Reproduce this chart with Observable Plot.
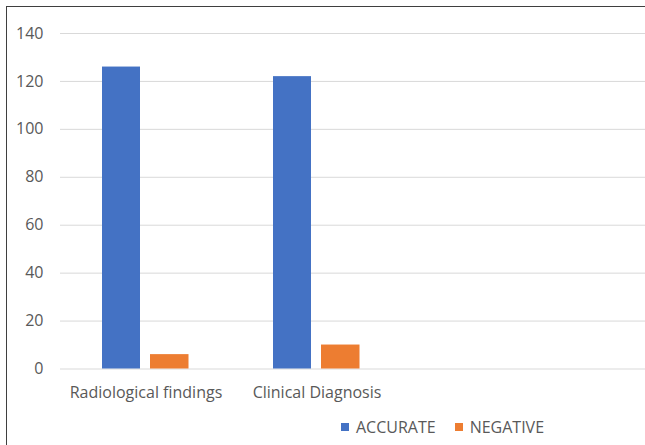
<!DOCTYPE html>
<html>
<head>
<meta charset="utf-8">
<script src="https://cdn.jsdelivr.net/npm/d3@7"></script>
<script src="https://cdn.jsdelivr.net/npm/@observablehq/plot@0.6"></script>
<style>
  html, body { margin: 0; padding: 0; background: #fff; overflow: hidden; width: 645px; height: 445px; }
  #frame { position: absolute; left: 6px; top: 6px; width: 700px; height: 500px;
           border-top: 1.5px solid #3f3f3f; border-left: 1.5px solid #3f3f3f; pointer-events: none; }
  #chart { position: absolute; left: 0; top: 0; }
  .legend { display: flex; align-items: center; padding-top: 11px; height: 22px; margin-left: 341px;
            font-family: "Open Sans", sans-serif; font-size: 16px; color: #595959; }
  .legend .item { display: flex; align-items: center; margin-right: 19px; }
  .legend .sw { width: 8px; height: 8px; margin-right: 7px; }
</style>
</head>
<body>
<div id="chart"></div>
<div id="frame"></div>
<script>
const categories = ["Radiological findings", "Clinical Diagnosis", " ", "  "];
const series = ["ACCURATE", "NEGATIVE"];
const accurate = [126, 122];
const negative = [6, 10];
const yTicks = [0, 20, 40, 60, 80, 100, 120, 140];
const colors = ["#4472C4", "#ED7D31"];

const data = [];
categories.slice(0, 2).forEach((c, i) => {
  data.push({category: c, series: series[0], value: accurate[i]});
  data.push({category: c, series: series[1], value: negative[i]});
});

const H = 405;
const plot = Plot.plot({
  width: 645,
  height: H,
  marginTop: 33,
  marginBottom: H - 368.5,
  marginLeft: 60,
  marginRight: 0,
  style: {fontFamily: "'Open Sans', sans-serif", fontSize: "16px", color: "#595959", background: "transparent"},
  x: {type: "band", domain: categories, range: [60, 60 + 4 * 171], padding: 0},
  y: {domain: [0, 140], ticks: yTicks},
  color: {domain: series, range: colors},
  marks: [
    Plot.ruleY(yTicks, {stroke: "#d9d9d9", strokeWidth: 1}),
    Plot.barY(data.filter(d => d.series === "ACCURATE"), {x: "category", y: "value", fill: "series", insetLeft: 42, insetRight: 91}),
    Plot.barY(data.filter(d => d.series === "NEGATIVE"), {x: "category", y: "value", fill: "series", insetLeft: 90, insetRight: 42.5}),
    Plot.axisY(yTicks, {tickSize: 0, tickPadding: 17, fontSize: 16, fill: "#595959", label: null}),
    Plot.axisX({tickSize: 0, tickPadding: 18, fontSize: 16, fill: "#595959", label: null})
  ]
});
document.getElementById("chart").appendChild(plot);

const legend = document.createElement("div");
legend.className = "legend";
legend.style.position = "absolute";
legend.style.top = H + "px";
legend.style.left = "0px";
series.forEach((s, i) => {
  const item = document.createElement("div");
  item.className = "item";
  const sw = document.createElement("div");
  sw.className = "sw";
  sw.style.background = colors[i];
  const t = document.createElement("span");
  t.textContent = s;
  item.appendChild(sw);
  item.appendChild(t);
  legend.appendChild(item);
});
document.body.appendChild(legend);
</script>
</body>
</html>
